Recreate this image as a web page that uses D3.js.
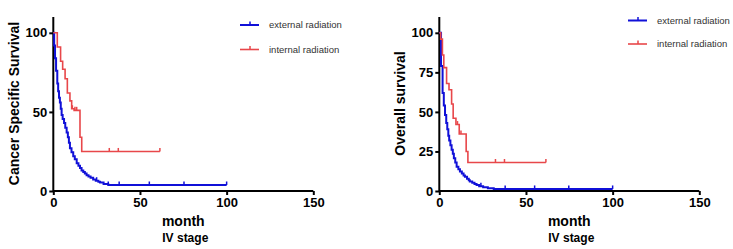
<!DOCTYPE html>
<html>
<head>
<meta charset="utf-8">
<script src="https://cdn.jsdelivr.net/npm/d3@7/dist/d3.min.js"></script>
<style>
  body { margin: 0; background: #fff; }
  svg { display: block; font-family: "Liberation Sans", Arial, sans-serif; }
</style>
</head>
<body>
<svg id="chart" width="733" height="249"></svg>
<script>
// Cancer specific survival, IV stage (left panel)
const cssExtTime = [0, 0.5, 1, 1.6, 2.3, 2.8, 3.3, 3.8, 4.3, 4.8, 5.4, 6.2, 6.9, 7.7, 8.4, 9, 9.6, 10.5, 11.5, 12.4, 13.5, 14.5, 15.4, 16.3, 17.3, 18.2, 19.2, 20.3, 21.5, 23, 24.5, 26, 27, 29, 31.7, 100];
const cssExtSurv = [100, 92, 84, 76, 68, 63, 59, 56, 52, 48, 45.5, 43, 40, 37, 34, 30.5, 27, 24.5, 22, 20, 17.5, 16, 14.5, 13, 12, 11, 10, 9.2, 8.3, 7.3, 6.5, 5.8, 5.3, 4.5, 3.8, 3.8];
const cssExtCens = [25, 31.7, 38, 55.4, 75.4, 100];

const cssIntTime = [0, 2.3, 4.2, 5.4, 6.8, 8.1, 9.6, 10.6, 12, 15.4, 16.4, 61.5];
const cssIntSurv = [100, 91, 82, 77, 71, 62, 57, 52, 51, 34, 25, 25];
const cssIntCens = [11, 12.5, 13.5, 32.3, 37.5, 61.5];

// Overall survival, IV stage (right panel)
const osExtTime = [0, 1, 1.9, 2.6, 3.3, 4, 4.6, 5.2, 5.7, 6.4, 7.1, 7.8, 8.4, 9.2, 10, 11, 11.9, 13, 14, 14.8, 16, 17, 17.6, 19, 20.3, 21.5, 23, 25.3, 28, 31.4, 100];
const osExtSurv = [100, 79, 62, 54, 48, 43, 39, 35, 32, 29, 26, 23.5, 20.7, 18, 15.4, 13.8, 12.3, 11, 9.8, 9, 7.8, 6.8, 6, 5.2, 4.5, 3.8, 3, 2.3, 1.8, 1.3, 1.3];
const osExtCens = [24, 38, 55, 74.7, 100];

const osIntTime = [0, 0.8, 1.8, 2.6, 4.2, 5.6, 7.1, 8, 9.6, 11.5, 15.5, 16.5, 61.5];
const osIntSurv = [100, 96, 86, 78, 68, 64, 55, 46, 42, 36, 25, 18, 18];
const osIntCens = [10.5, 12.5, 32.4, 37.6, 61.5];

const legendNames = ["external radiation", "internal radiation"];
const colors = ["#1010d8", "#e8474a"];
const xTicks = [0, 50, 100, 150];

const svg = d3.select("#chart");

function panel(cfg) {
  const x = d3.scaleLinear().domain([0, 150]).range([cfg.x0, cfg.x0 + 260]);
  const y = d3.scaleLinear().domain([0, 110]).range([191, 17]);
  const g = svg.append("g");

  const xAxis = g.append("g")
    .attr("transform", "translate(0,191)")
    .call(d3.axisBottom(x).tickValues(xTicks).tickSize(4).tickPadding(3));
  const yAxis = g.append("g")
    .attr("transform", `translate(${cfg.x0},0)`)
    .call(d3.axisLeft(y).tickValues(cfg.yTicks).tickSize(4).tickPadding(2));
  [xAxis, yAxis].forEach(a => {
    a.selectAll(".domain").attr("stroke", "#000").attr("stroke-width", 2);
    a.selectAll(".tick line").attr("stroke", "#000").attr("stroke-width", 2);
    a.selectAll(".tick text")
      .attr("fill", "#000")
      .style("font-size", "13px")
      .style("font-weight", "bold")
      .style("font-family", "'Liberation Sans', Arial, sans-serif");
  });
  yAxis.select(".domain").attr("d", `M-0,${y(110)}V${y(0)}`);
  xAxis.select(".domain").attr("d", `M${x(0)},0H${x(150)}`);

  const line = d3.line()
    .x(d => x(d[0]))
    .y(d => y(d[1]))
    .curve(d3.curveStepAfter);

  cfg.series.forEach((s, i) => {
    const pts = s.time.map((t, k) => [t, s.surv[k]]);
    g.append("path")
      .attr("d", line(pts))
      .attr("fill", "none")
      .attr("stroke", colors[i])
      .attr("stroke-width", i === 0 ? 2 : 1.6);

    // censor marks
    const at = t => {
      let v = s.surv[0];
      s.time.forEach((tt, k) => { if (tt <= t) v = s.surv[k]; });
      return v;
    };
    g.selectAll(null).data(s.cens).enter().append("line")
      .attr("x1", d => x(d)).attr("x2", d => x(d))
      .attr("y1", d => y(at(d)))
      .attr("y2", d => y(at(d)) - 3.5)
      .attr("stroke", colors[i])
      .attr("stroke-width", 1.5);
  });

  // legend
  legendNames.forEach((name, i) => {
    const ly = cfg.legY[i];
    g.append("line")
      .attr("x1", cfg.legX).attr("x2", cfg.legX + 19)
      .attr("y1", ly).attr("y2", ly)
      .attr("stroke", colors[i]).attr("stroke-width", i === 0 ? 2 : 1.6);
    g.append("line")
      .attr("x1", cfg.legX + 10).attr("x2", cfg.legX + 10)
      .attr("y1", ly).attr("y2", ly - 3.5)
      .attr("stroke", colors[i]).attr("stroke-width", 1.5);
    g.append("text")
      .attr("x", cfg.legX + 29).attr("y", ly + 3)
      .attr("fill", "#333")
      .style("font-size", "9.5px")
      .text(name);
  });

  // axis titles
  g.append("text")
    .attr("transform", `translate(${cfg.titleX},103.5) rotate(-90)`)
    .attr("text-anchor", "middle")
    .style("font-size", "14px").style("font-weight", "bold")
    .text(cfg.yTitle);
  g.append("text")
    .attr("x", cfg.x0 + 130).attr("y", 226)
    .attr("text-anchor", "middle")
    .style("font-size", "14px").style("font-weight", "bold")
    .text("month");
  g.append("text")
    .attr("x", cfg.x0 + 132).attr("y", 241.5)
    .attr("text-anchor", "middle")
    .style("font-size", "12px").style("font-weight", "bold")
    .text("IV stage");
}

panel({
  x0: 53.3,
  yTicks: [0, 50, 100],
  yTitle: "Cancer Specific Survival",
  titleX: 18.5,
  legX: 240, legY: [25, 49.5],
  series: [
    { time: cssExtTime, surv: cssExtSurv, cens: cssExtCens },
    { time: cssIntTime, surv: cssIntSurv, cens: cssIntCens }
  ]
});

panel({
  x0: 439.3,
  yTicks: [0, 25, 50, 75, 100],
  yTitle: "Overall survival",
  titleX: 405,
  legX: 628, legY: [20.5, 44],
  series: [
    { time: osExtTime, surv: osExtSurv, cens: osExtCens },
    { time: osIntTime, surv: osIntSurv, cens: osIntCens }
  ]
});
</script>
</body>
</html>
